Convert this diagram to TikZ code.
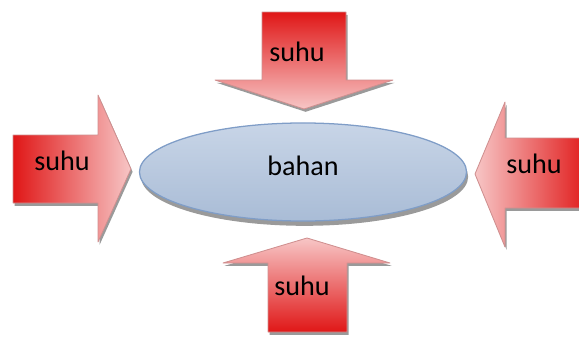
\documentclass[tikz,border=0pt]{standalone}
\usepackage{fontspec}
\setmainfont{Carlito}
\usepackage{tikz}
\usetikzlibrary{shapes.geometric}
\definecolor{heatred}{HTML}{E01717}
\definecolor{heatmid}{HTML}{EE8080}
\definecolor{heatpink}{HTML}{F7C6C6}
\definecolor{heatedge}{HTML}{CF8F8F}
\definecolor{discfill}{HTML}{C8D5E7}
\definecolor{discdark}{HTML}{A9BCD6}
\definecolor{discedge}{HTML}{7F9DC7}
\definecolor{bevel}{HTML}{9A9A9A}

\begin{document}
\begin{tikzpicture}[
  x=0.025cm,y=-0.025cm,
  every node/.style={font=\fontsize{20}{24}\selectfont},
  heat/.style={draw=heatedge,line width=0.6pt,line join=round,
    preaction={fill=bevel,transform canvas={xshift=0.04cm,yshift=-0.07cm}}},
  disc/.style={ellipse,draw=discedge,line width=0.9pt,top color=discfill,bottom color=discdark,
    minimum width=8.175cm,minimum height=2.45cm,inner sep=0pt,
    preaction={fill=bevel,transform canvas={xshift=0.04cm,yshift=-0.12cm}}},
  heatlbl/.style={anchor=base,text=black,inner sep=0pt}
]
  \useasboundingbox (0,0) rectangle (579,336);
  \clip (0,0) rectangle (579,336);

  % Material in the middle.
  \node[disc] (disk) at (303,172) {};
  \node[heatlbl] (bahan) at (303,175) {bahan};

  % Heat enters from the four sides.
  \draw[heat,top color=heatred,middle color=heatmid,bottom color=heatpink]
    (262,12) -- (346,12) -- (346,80) -- (393,80) -- (304,109) -- (215,80) -- (262,80) -- cycle;
  \draw[heat,left color=heatred,middle color=heatmid,right color=heatpink]
    (13,135) -- (98,135) -- (98,95) -- (131,169) -- (98,242) -- (98,203) -- (13,203) -- cycle;
  \draw[heat,right color=heatred,middle color=heatmid,left color=heatpink]
    (590,138) -- (505,138) -- (505,102) -- (475,174) -- (505,247) -- (505,208) -- (590,208) -- cycle;
  \draw[heat,bottom color=heatred,middle color=heatmid,top color=heatpink]
    (268,332) -- (268,263) -- (223,263) -- (307,238) -- (390,263) -- (347,263) -- (347,332) -- cycle;

  \node[heatlbl] (top) at (297,61) {suhu};
  \node[heatlbl] (left) at (62,170) {suhu};
  \node[heatlbl] (right) at (534,173) {suhu};
  \node[heatlbl] (bottom) at (302,295) {suhu};
\end{tikzpicture}
\end{document}
